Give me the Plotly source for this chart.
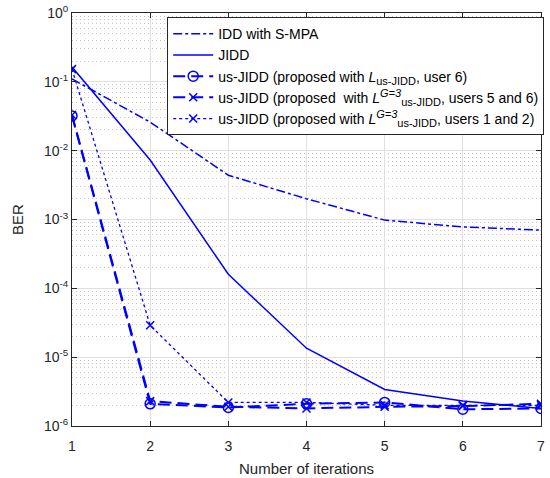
import plotly.graph_objects as go

iterations = [1, 2, 3, 4, 5, 6, 7]
idd_smpa = [0.11, 0.026, 0.0044, 0.002, 0.00098, 0.00078, 0.0007]
jidd = [0.164, 0.0073, 1.6e-4, 1.35e-5, 3.4e-6, 2.3e-6, 1.8e-6]
us_user6 = [0.032, 2.1e-6, 1.86e-6, 2.1e-6, 2.2e-6, 1.75e-6, 1.8e-6]
us_users56 = [0.033, 2.3e-6, 1.9e-6, 1.8e-6, 1.9e-6, 1.95e-6, 2.1e-6]
us_users12 = [0.153, 2.9e-5, 2.2e-6, 2.2e-6, 2.0e-6, 2.0e-6, 2.0e-6]

SUB = '<sub><span style="font-size:11px">us-JIDD</span></sub>'
SUP = '<sup><span style="font-size:11px"><i>G=3</i></span></sup>'
names = [
    "IDD with S-MPA",
    "JIDD",
    "us-JIDD (proposed with <i>L</i>" + SUB + ", user 6)",
    "us-JIDD (proposed  with <i>L</i>" + SUP + SUB + ", users 5 and 6)",
    "us-JIDD (proposed with <i>L</i>" + SUP + SUB + ", users 1 and 2)",
]
ytick_vals = [1e-6, 1e-5, 1e-4, 1e-3, 1e-2, 1e-1, 1]
ytick_text = ["10<sup>-6</sup>", "10<sup>-5</sup>", "10<sup>-4</sup>", "10<sup>-3</sup>",
              "10<sup>-2</sup>", "10<sup>-1</sup>", "10<sup>0</sup>"]

blue = "#0000ff"
fig = go.Figure()
fig.add_trace(go.Scatter(x=iterations, y=idd_smpa, name=names[0], mode="lines",
                         line=dict(color=blue, width=1.5, dash="dashdot")))
fig.add_trace(go.Scatter(x=iterations, y=jidd, name=names[1], mode="lines",
                         line=dict(color=blue, width=1.5)))
fig.add_trace(go.Scatter(x=iterations, y=us_user6, name=names[2], mode="lines+markers",
                         line=dict(color=blue, width=2, dash="12px,6px"),
                         marker=dict(symbol="circle-open", size=10, color=blue, line=dict(width=1.5))))
fig.add_trace(go.Scatter(x=iterations, y=us_users56, name=names[3], mode="lines+markers",
                         line=dict(color=blue, width=2, dash="12px,6px"),
                         marker=dict(symbol="x-thin-open", size=8, color=blue, line=dict(width=1.5, color=blue))))
fig.add_trace(go.Scatter(x=iterations, y=us_users12, name=names[4], mode="lines+markers",
                         line=dict(color=blue, width=1.3, dash="dot"),
                         marker=dict(symbol="x-thin-open", size=8, color=blue, line=dict(width=1.5, color=blue))))

axis_common = dict(showline=True, linecolor="#262626", linewidth=1, mirror="allticks",
                   ticks="inside", ticklen=5, tickcolor="#262626", automargin=False,
                   ticklabeloverflow="allow",
                   gridcolor="#e0e0e0", gridwidth=1, zeroline=False,
                   tickfont=dict(size=14, color="#262626"))
fig.update_layout(
    width=550, height=478,
    margin=dict(l=72, r=9, t=13, b=52, autoexpand=False),
    paper_bgcolor="white", plot_bgcolor="white",
    font=dict(family="Liberation Sans, Arial, sans-serif", color="#262626"),
    xaxis=dict(range=[1, 7], tickvals=iterations, ticklabelstandoff=7,
               title=dict(text="Number of iterations", font=dict(size=15), standoff=10),
               **axis_common),
    yaxis=dict(type="log", range=[-6, 0], tickvals=ytick_vals, ticktext=ytick_text,
               title=dict(text="BER", font=dict(size=15), standoff=16),
               minor=dict(showgrid=True, gridcolor="#c4c4c4", griddash="1px,3px", gridwidth=1,
                          tickvals=[m * 10 ** e for e in range(-6, 0) for m in range(2, 10)]),
               **axis_common),
    legend=dict(x=0.203, y=0.99, xanchor="left", yanchor="top", bgcolor="white",
                bordercolor="#262626", borderwidth=1, font=dict(size=14, color="black"),
                tracegroupgap=0, itemwidth=40),
    showlegend=True,
)
fig.write_html("out.html", config={"displayModeBar": False},
               post_script="document.body.style.margin='0px';")
